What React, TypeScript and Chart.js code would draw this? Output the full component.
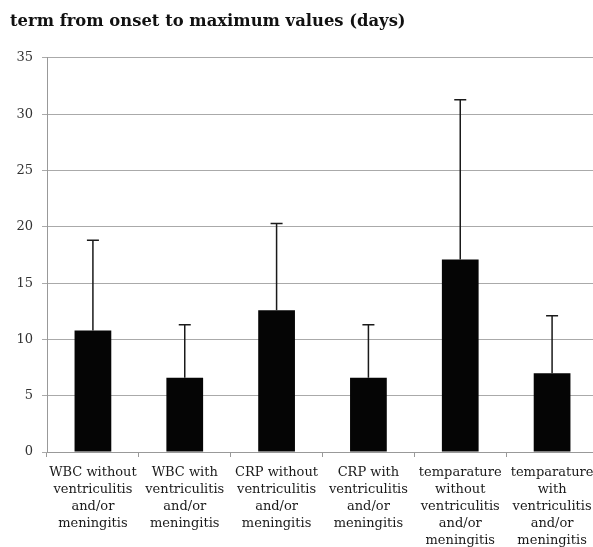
import React, { useEffect, useRef } from "react";
import { Chart, registerables } from "chart.js";

Chart.register(...registerables);

// Category labels (multi-line)
const categories: string[][] = [
  ["WBC without", "ventriculitis", "and/or", "meningitis"],
  ["WBC with", "ventriculitis", "and/or", "meningitis"],
  ["CRP without", "ventriculitis", "and/or", "meningitis"],
  ["CRP with", "ventriculitis", "and/or", "meningitis"],
  ["temparature", "without", "ventriculitis", "and/or", "meningitis"],
  ["temparature", "with", "ventriculitis", "and/or", "meningitis"],
];

// Mean days from onset to maximum value
const meanDays: number[] = [10.8, 6.6, 12.6, 6.6, 17.1, 7.0];
// Standard deviation (upper error bar)
const sdDays: number[] = [8.0, 4.7, 7.7, 4.7, 14.2, 5.1];

const titleText = "term from onset to maximum values (days)";
const yMin = 0;
const yMax = 35;
const yStep = 5;

const serif = "'DejaVu Serif', 'Liberation Serif', serif";

// Draws the upper standard-deviation whisker with a cap on each bar
const errorBarPlugin = {
  id: "errorBars",
  afterDatasetsDraw(chart: any) {
    const meta = chart.getDatasetMeta(0);
    const yScale = chart.scales.y;
    const ctx = chart.ctx;
    ctx.save();
    ctx.strokeStyle = "#1a1a1a";
    ctx.lineWidth = 1.5;
    meta.data.forEach((bar: any, i: number) => {
      const x = bar.x;
      const yTop = yScale.getPixelForValue(meanDays[i] + sdDays[i]);
      const yBase = yScale.getPixelForValue(meanDays[i]);
      ctx.beginPath();
      ctx.moveTo(x, yBase);
      ctx.lineTo(x, yTop);
      ctx.moveTo(x - 6, yTop);
      ctx.lineTo(x + 6, yTop);
      ctx.stroke();
    });
    ctx.restore();
  },
};

export default function App() {
  const canvasRef = useRef<HTMLCanvasElement | null>(null);

  useEffect(() => {
    if (!canvasRef.current) return;
    const chart = new Chart(canvasRef.current, {
      type: "bar",
      data: {
        labels: categories,
        datasets: [
          {
            data: meanDays,
            backgroundColor: "#050505",
            borderWidth: 0,
            barPercentage: 0.4,
            categoryPercentage: 1,
          },
        ],
      },
      options: {
        responsive: false,
        animation: false,
        devicePixelRatio: 1,
        layout: { padding: { left: 10, right: 7, top: 0, bottom: 0 } },
        plugins: {
          legend: { display: false },
          tooltip: { enabled: false },
          title: {
            display: true,
            text: titleText,
            align: "start",
            color: "#111",
            font: { family: serif, size: 16.4, weight: "bold", lineHeight: 1.2 },
            padding: { top: 12, bottom: 26.3 },
          },
        },
        scales: {
          x: {
            grid: {
              display: true,
              drawOnChartArea: false,
              drawTicks: true,
              tickLength: 5,
              offset: true,
              color: "#999",
            },
            border: { display: true, color: "#999", width: 1 },
            ticks: {
              color: "#1a1a1a",
              font: { family: serif, size: 13, lineHeight: 17 / 13 },
              padding: 7,
              maxRotation: 0,
              autoSkip: false,
            },
            afterFit(scale: any) {
              scale.height = 95;
            },
          },
          y: {
            min: yMin,
            max: yMax,
            grid: {
              color: "#aaa",
              lineWidth: 1,
              tickLength: 5,
            },
            border: { display: true, color: "#999", width: 1 },
            ticks: {
              stepSize: yStep,
              color: "#333",
              font: { family: serif, size: 13 },
              padding: 9,
            },
            afterFit(scale: any) {
              scale.width = 37;
            },
          },
        },
      },
      plugins: [errorBarPlugin],
    });
    return () => chart.destroy();
  }, []);

  return (
    <div
      style={{
        position: "absolute",
        left: 0,
        top: 0,
        width: 593,
        height: 547,
        overflow: "hidden",
        background: "#fff",
      }}
    >
      <canvas ref={canvasRef} width={605} height={547} style={{ display: "block" }} />
    </div>
  );
}
